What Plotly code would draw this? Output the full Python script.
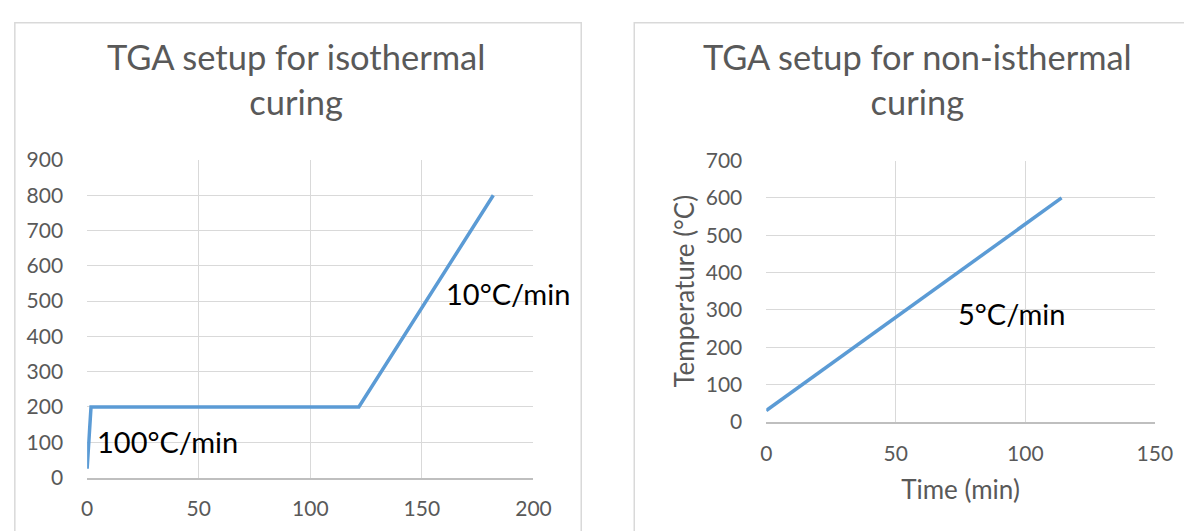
import plotly.graph_objects as go

# Data
iso_time = [0, 1.75, 121.75, 182]
iso_temp = [25, 200, 200, 800]
non_time = [0, 114]
non_temp = [30, 600]

left_title = "TGA setup for isothermal<br>curing"
right_title = "TGA setup for non-isthermal<br>curing"
left_xticks = [0, 50, 100, 150, 200]
left_yticks = [0, 100, 200, 300, 400, 500, 600, 700, 800, 900]
right_xticks = [0, 50, 100, 150]
right_yticks = [0, 100, 200, 300, 400, 500, 600, 700]

W, H = 1192, 531
# mapping from wanted on-screen pixel to figure paper coords (calibrated)
OX, SX = 11.5, 0.985
OY, SY = 19.0, 0.9575
def px(t): return ((t - OX) / SX) / W
def py(t): return 1 - ((t - OY) / SY) / H

FONT = "Lato"
GRAY = "#595959"
LINE = "#5B9BD5"
GRID = "#D9D9D9"
AXL = "#BFBFBF"

fig = go.Figure()
fig.add_trace(go.Scatter(x=iso_time, y=iso_temp, mode="lines",
                         line=dict(color=LINE, width=3.5), xaxis="x", yaxis="y",
                         showlegend=False, hoverinfo="skip"))
fig.add_trace(go.Scatter(x=non_time, y=non_temp, mode="lines",
                         line=dict(color=LINE, width=3.5), xaxis="x2", yaxis="y2",
                         showlegend=False, hoverinfo="skip"))

axcommon = dict(showgrid=True, gridcolor=GRID, gridwidth=1.3, zeroline=False,
                tickfont=dict(family=FONT, size=21, color=GRAY), ticks="",
                fixedrange=True)
title_font = dict(family=FONT, size=26, color=GRAY)

fig.update_layout(
    width=W, height=H, margin=dict(l=0, r=0, t=0, b=0),
    paper_bgcolor="white", plot_bgcolor="white",
    font=dict(family=FONT, color=GRAY),
    xaxis=dict(domain=[px(85), px(533.7)], range=[0, 200], tickvals=left_xticks,
               anchor="y", showline=True, linecolor=AXL, linewidth=1.5,
               ticklabelstandoff=12, **axcommon),
    yaxis=dict(domain=[py(476.7), py(157.7)], range=[0, 900], tickvals=left_yticks,
               anchor="x", showline=False, ticklabelstandoff=23, **axcommon),
    xaxis2=dict(domain=[px(767.7), px(1158.3)], range=[0, 150], tickvals=right_xticks,
                anchor="y2", showline=True, linecolor=AXL, linewidth=1.5,
                ticklabelstandoff=12,
                title=dict(text="Time (min)", font=title_font, standoff=17),
                **axcommon),
    yaxis2=dict(domain=[py(420.7), py(158.3)], range=[0, 700], tickvals=right_yticks,
                anchor="x2", showline=False, ticklabelstandoff=23,
                title=dict(text="Temperature (°C)", font=title_font, standoff=3),
                **axcommon),
    shapes=[
        dict(type="rect", xref="paper", yref="paper", x0=0.0007, x1=px(581.7),
             y0=-0.05, y1=0.9985, line=dict(color=GRID, width=1.5),
             fillcolor="rgba(0,0,0,0)", layer="below"),
        dict(type="rect", xref="paper", yref="paper", x0=px(635), x1=1.05,
             y0=-0.05, y1=0.9985, line=dict(color=GRID, width=1.5),
             fillcolor="rgba(0,0,0,0)", layer="below"),
    ],
    annotations=[
        dict(text=left_title, xref="paper", yref="paper", x=px(295), y=py(76),
             showarrow=False, font=dict(family=FONT, size=34.5, color=GRAY),
             xanchor="center", yanchor="middle"),
        dict(text=right_title, xref="paper", yref="paper", x=px(920), y=py(76),
             showarrow=False, font=dict(family=FONT, size=34.4, color=GRAY),
             xanchor="center", yanchor="middle"),
        dict(text="100°C/min", xref="paper", yref="paper", x=px(92.5), y=py(441),
             showarrow=False, font=dict(family=FONT, size=29, color="black"),
             xanchor="left", yanchor="middle"),
        dict(text="10°C/min", xref="paper", yref="paper", x=px(444), y=py(292),
             showarrow=False, font=dict(family=FONT, size=29, color="black"),
             xanchor="left", yanchor="middle"),
        dict(text="5°C/min", xref="paper", yref="paper", x=px(958), y=py(311.5),
             showarrow=False, font=dict(family=FONT, size=29, color="black"),
             xanchor="left", yanchor="middle"),
    ],
)

fig.write_html("out.html")
